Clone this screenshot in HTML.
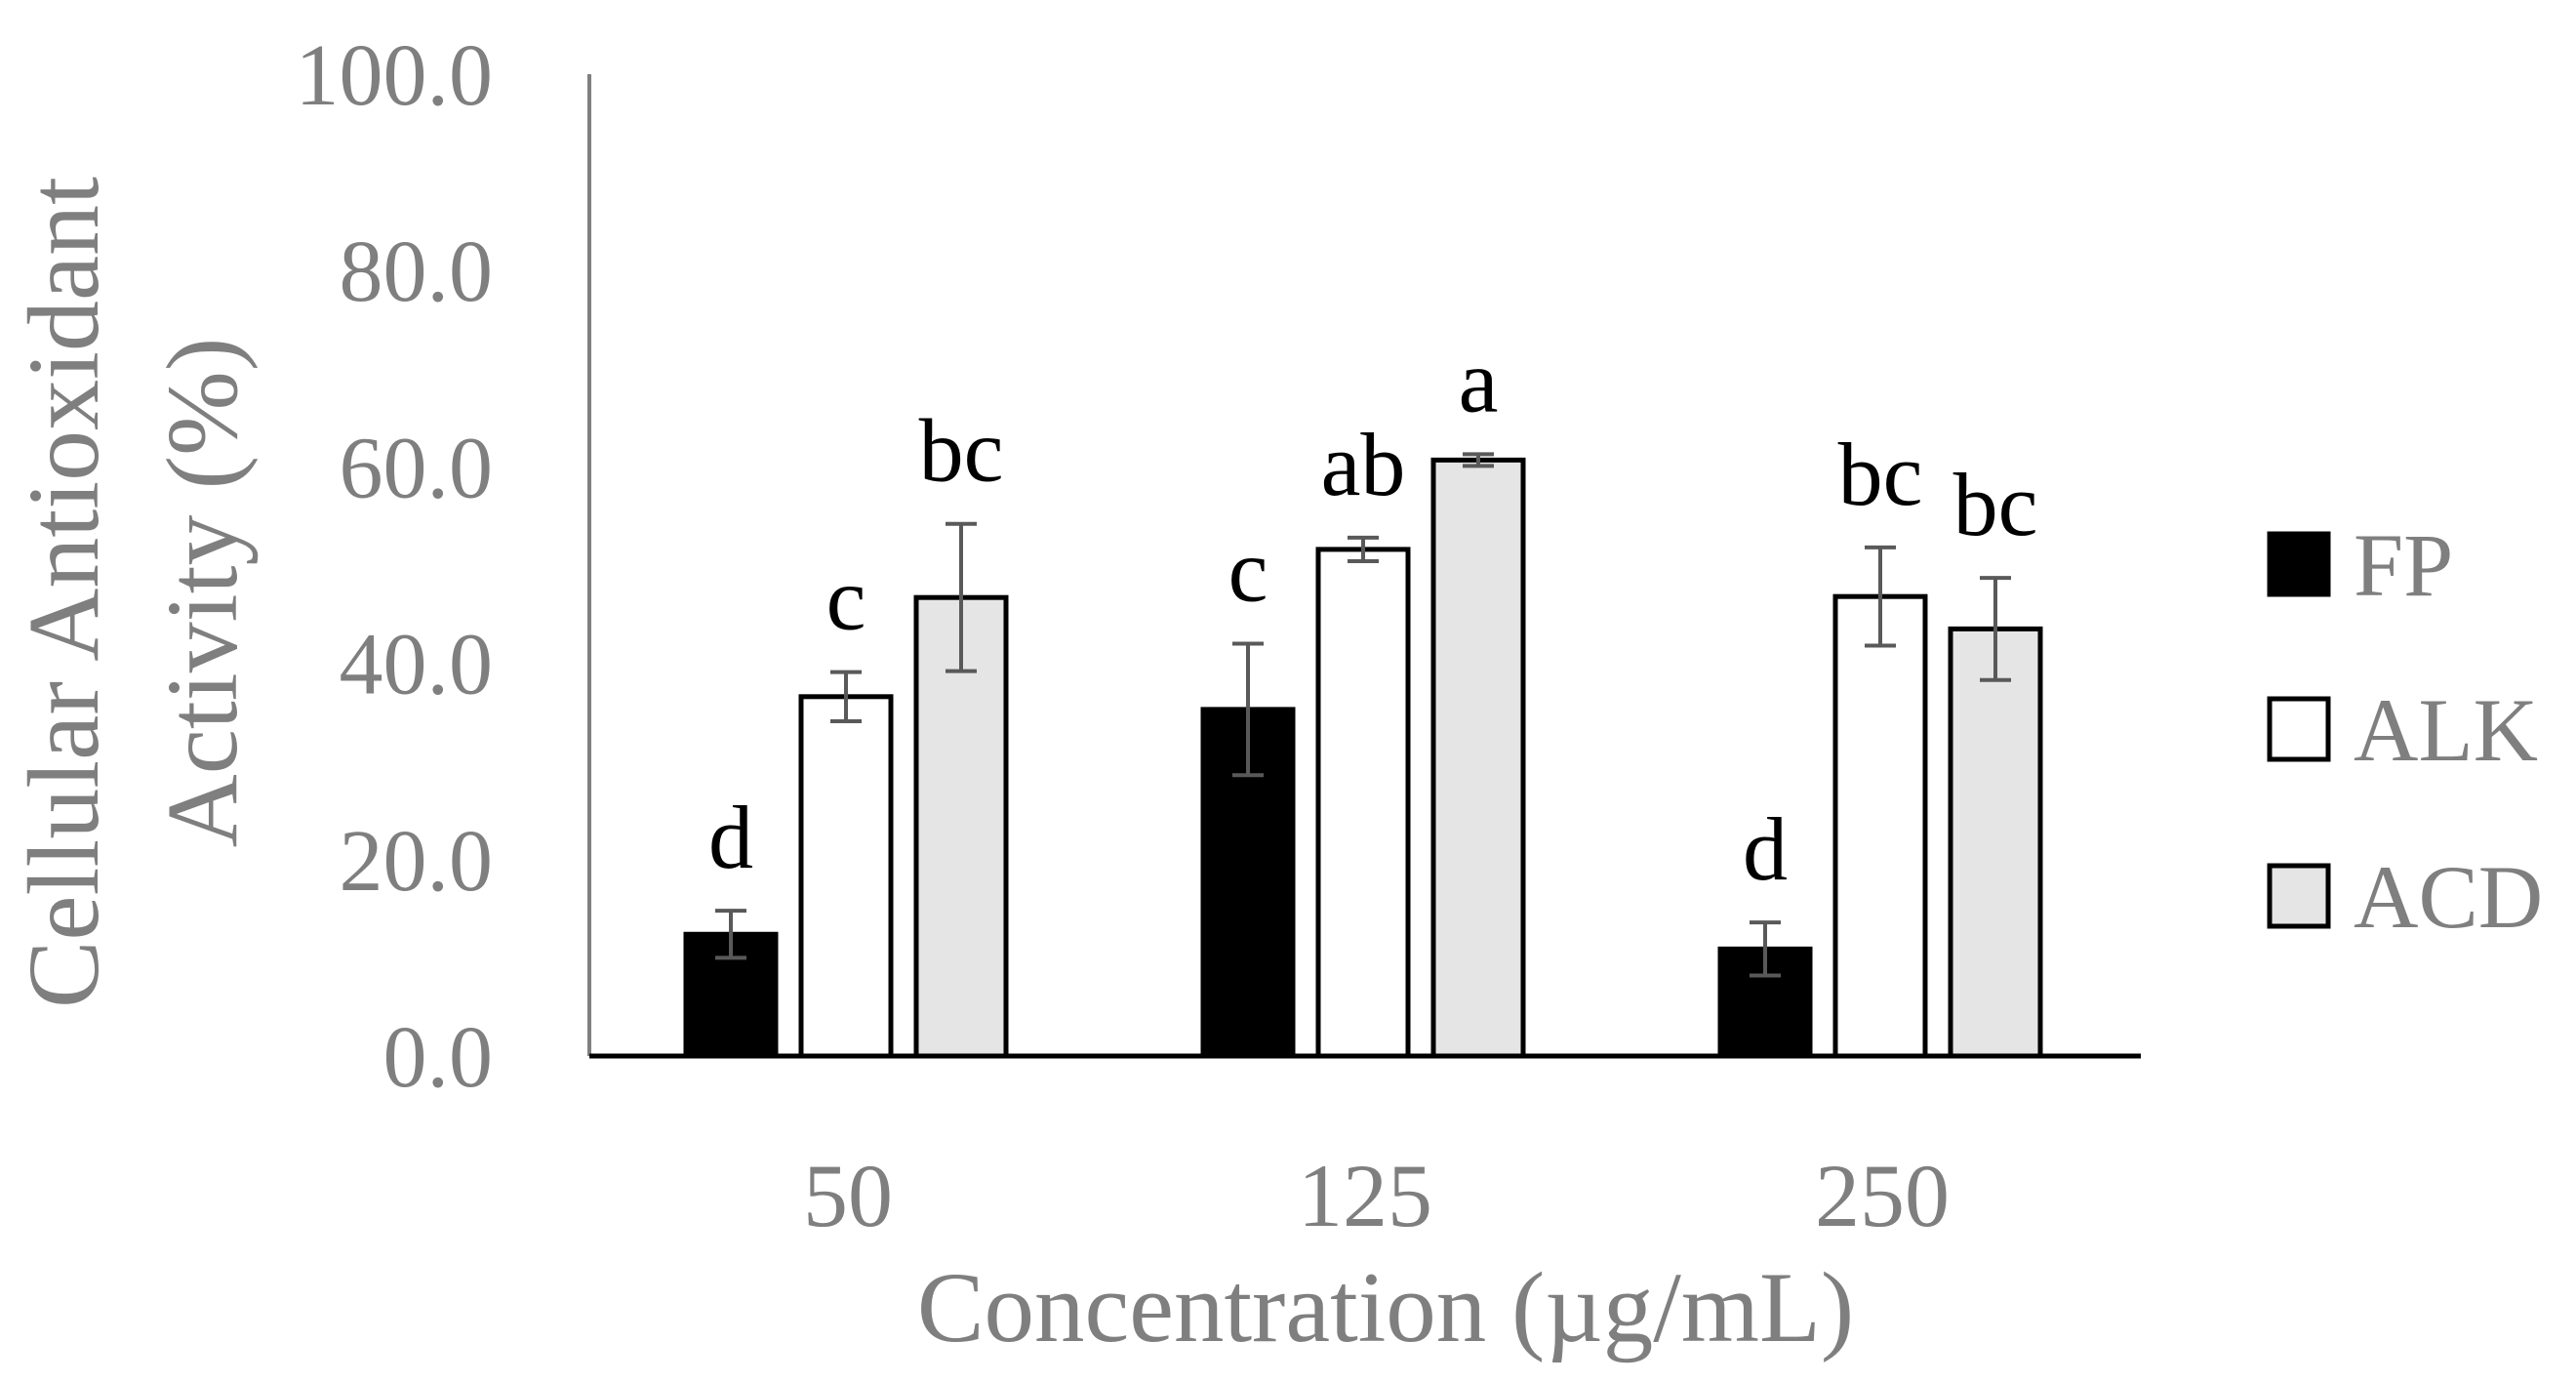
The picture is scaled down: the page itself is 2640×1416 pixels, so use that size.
<!DOCTYPE html>
<html><head><meta charset="utf-8"><style>
html,body{margin:0;padding:0;background:#fff;}
svg{display:block;font-family:"Liberation Serif",serif;}
</style></head><body>
<svg id="chart" width="2640" height="1416" viewBox="0 0 2640 1416" xmlns="http://www.w3.org/2000/svg">
<g id="yticks"></g>
<g id="bars"></g>
<g id="xticks"></g>
<line x1="604" y1="76" x2="604" y2="1082" stroke="#7f7f7f" stroke-width="4"/>
<line x1="604" y1="1082" x2="2194" y2="1082" stroke="#000" stroke-width="5"/>
<text x="1420" y="1374" font-size="103" fill="#7f7f7f" text-anchor="middle">Concentration (µg/mL)</text>
<g font-size="104" fill="#7f7f7f" text-anchor="middle">
<text transform="translate(100,607) rotate(-90)">Cellular Antioxidant</text>
<text transform="translate(242,607) rotate(-90)">Activity (%)</text>
</g>
<g id="legend"></g>
</svg>
<script>
const categories = ["50", "125", "250"];
const seriesNames = ["FP", "ALK", "ACD"];
const fpValues = [12.4, 35.3, 10.9];
const alkValues = [36.6, 51.6, 46.8];
const acdValues = [46.7, 60.7, 43.5];
const fpErr = [2.4, 6.7, 2.7];
const alkErr = [2.5, 1.2, 5.0];
const acdErr = [7.5, 0.6, 5.2];
const fpLetters = ["d", "c", "d"];
const alkLetters = ["c", "ab", "bc"];
const acdLetters = ["bc", "a", "bc"];
const yTicks = [0, 20, 40, 60, 80, 100];
const yTickLabels = ["0.0", "20.0", "40.0", "60.0", "80.0", "100.0"];

const NS = "http://www.w3.org/2000/svg";
const x0 = 604, x1 = 2194, yBase = 1082, yTop = 76;
const yScale = v => yBase - (v / 100) * (yBase - yTop);
const band = (x1 - x0) / categories.length;
const xCenter = i => x0 + band * (i + 0.5);
const fills = ["#000000", "#ffffff", "#e5e5e5"];
const values = [fpValues, alkValues, acdValues];
const errs = [fpErr, alkErr, acdErr];
const letters = [fpLetters, alkLetters, acdLetters];
const barW = 92, step = 118;
function mk(tag, attrs, parent) {
  const e = document.createElementNS(NS, tag);
  for (const k in attrs) e.setAttribute(k, attrs[k]);
  parent.appendChild(e);
  return e;
}
const yt = document.getElementById("yticks");
yTicks.forEach((v, i) => {
  const t = mk("text", {x: 505, y: yScale(v) + 31, "font-size": 90, fill: "#7f7f7f", "text-anchor": "end"}, yt);
  
  
  t.textContent = yTickLabels[i];
});
const xt = document.getElementById("xticks");
categories.forEach((c, i) => {
  const t = mk("text", {x: xCenter(i), y: 1256, "font-size": 92, fill: "#7f7f7f", "text-anchor": "middle"}, xt);
  
  
  t.textContent = c;
});
const bg = document.getElementById("bars");
categories.forEach((c, i) => {
  for (let s = 0; s < 3; s++) {
    const cx = xCenter(i) + (s - 1) * step - 2;
    const v = values[s][i], e = errs[s][i];
    const top = yScale(v);
    const r = mk("rect", {x: cx - barW / 2, y: top, width: barW, height: yBase - top, fill: fills[s], stroke: "#000", "stroke-width": 5}, bg);
    
    
    const eh = yScale(v + e), el = yScale(v - e);
    const g = mk("g", {stroke: "#595959", "stroke-width": 4}, bg);
    
    
    mk("line", {x1: cx, x2: cx, y1: eh, y2: el}, g);
    mk("line", {x1: cx - 16, x2: cx + 16, y1: eh, y2: eh}, g);
    mk("line", {x1: cx - 16, x2: cx + 16, y1: el, y2: el}, g);
    const t = mk("text", {x: cx, y: eh - 44, "font-size": 92, fill: "#000", "text-anchor": "middle"}, bg);
    
    
    t.textContent = letters[s][i];
  }
});
const lg = document.getElementById("legend");
const legY = [578, 747, 918];
seriesNames.forEach((n, s) => {
  const g = mk("g", {}, lg);
  
  
  mk("rect", {x: 2326, y: legY[s] - 31, width: 60, height: 62, fill: fills[s], stroke: "#000", "stroke-width": 5}, g);
  const t = mk("text", {x: 2412, y: legY[s] + 32, "font-size": 92, fill: "#7f7f7f"}, g);
  t.textContent = n;
});
</script>
</body></html>
